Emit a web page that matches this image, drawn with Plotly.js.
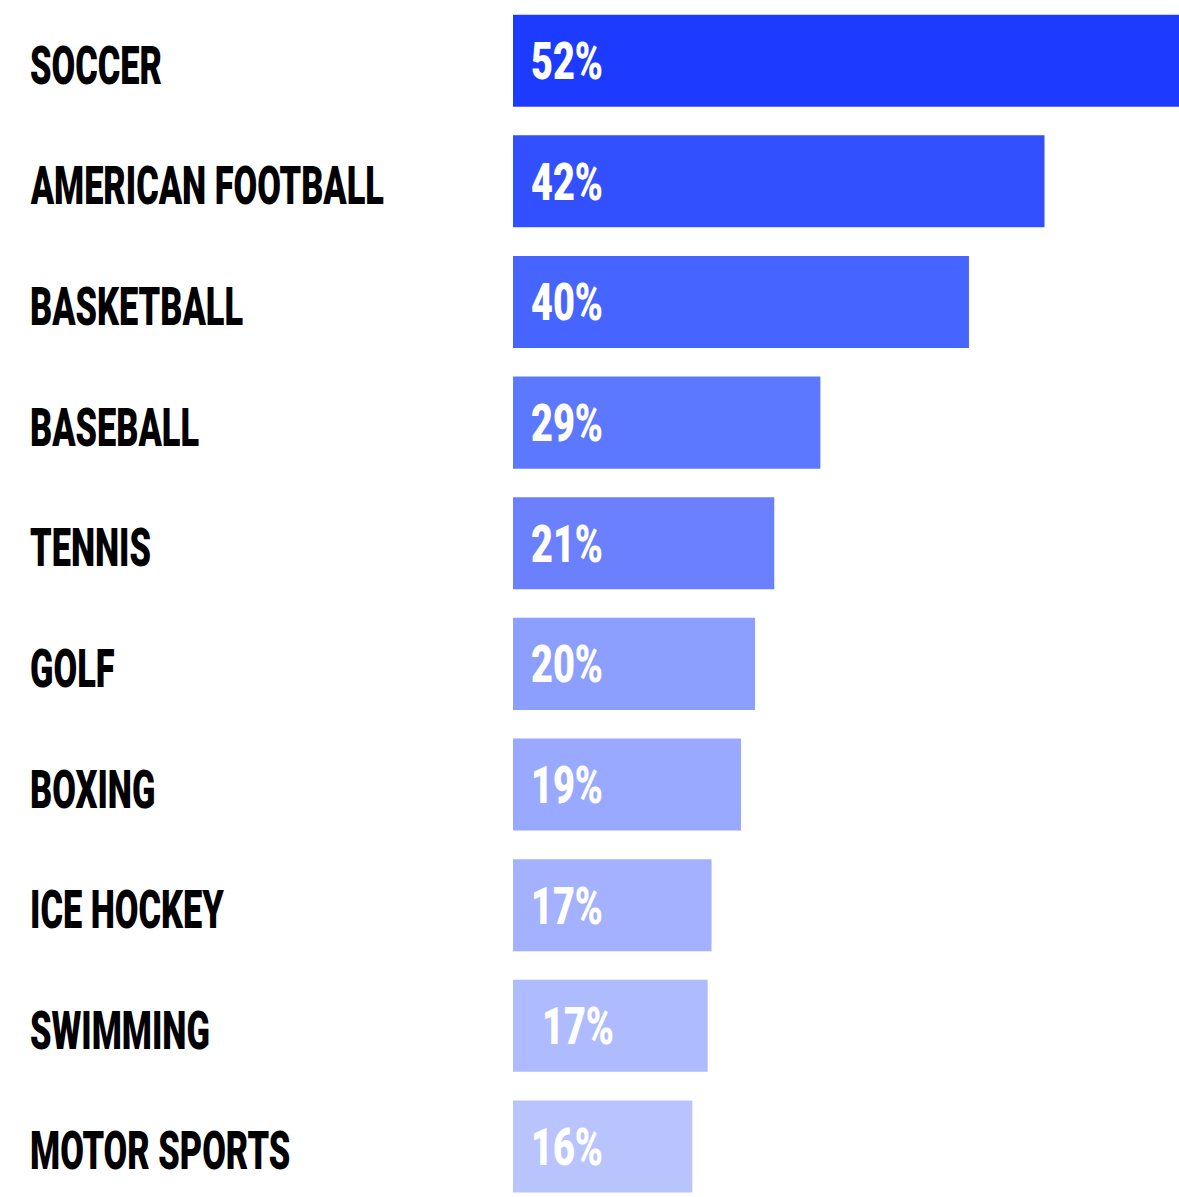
<!DOCTYPE html>
<html>
<head>
<meta charset="utf-8">
<script src="https://cdn.plot.ly/plotly-3.0.1.min.js"></script>
<style>html,body{margin:0;padding:0;background:#fff;}#chart{width:1179px;height:1197px;}</style>
</head>
<body>
<div id="chart"></div>
<script>
const categories = ["SOCCER","AMERICAN FOOTBALL","BASKETBALL","BASEBALL","TENNIS","GOLF","BOXING","ICE HOCKEY","SWIMMING","MOTOR SPORTS"];
const barValues = [52, 41.5, 35.6, 24.0, 20.4, 18.9, 17.8, 15.5, 15.2, 14.0];
const valueLabels = ["52%","42%","40%","29%","21%","20%","19%","17%","17%","16%"];
const barColors = ["#1c3bff","#3350ff","#4664ff","#5c78ff","#6a80ff","#8c9fff","#98a9ff","#a4b1ff","#aebcff","#b9c4ff"];

const FONT = "Roboto, Inter, 'DejaVu Sans', sans-serif";

const trace = {
  type: "bar",
  orientation: "h",
  y: categories,
  x: barValues,
  marker: {color: barColors, line: {width: 0}},
  width: 0.763,
  hoverinfo: "skip"
};

const annotations = [];
categories.forEach((c, i) => {
  annotations.push({
    xref: "paper", yref: "y", x: -0.7282, y: c,
    xanchor: "left", yanchor: "middle", yshift: -5,
    text: c, showarrow: false,
    font: {family: FONT, size: 53, weight: 900, color: "#000"}
  });
  annotations.push({
    xref: "x", yref: "y", x: 0, y: c,
    xanchor: "left", yanchor: "middle", yshift: -1,
    xshift: c === "SWIMMING" ? 27 : 16,
    text: valueLabels[i], showarrow: false,
    font: {family: FONT, size: 52, weight: 900, color: "#fff"}
  });
});

const layout = {
  width: 1179, height: 1197,
  margin: {l: 513, r: 0, t: 0, b: 0, pad: 0},
  paper_bgcolor: "#fff", plot_bgcolor: "#fff",
  showlegend: false,
  xaxis: {range: [0, 52], visible: false, fixedrange: true},
  yaxis: {type: "category", range: [9.419, -0.503], visible: false, fixedrange: true},
  annotations: annotations
};

Plotly.newPlot("chart", [trace], layout, {displayModeBar: false, staticPlot: true}).then(gd => {
  // condense the heavy labels horizontally, as in the original condensed typeface
  const texts = Array.from(gd.querySelectorAll("text.annotation-text"));
  let catRef = null, valRef = null;
  texts.forEach(t => {
    const s = t.textContent;
    if (s === "AMERICAN FOOTBALL") catRef = t;
    if (s === "52%") valRef = t;
  });
  const catScale = catRef ? 354 / catRef.getBBox().width : 1;
  const valScale = valRef ? 72 / valRef.getBBox().width : 1;
  texts.forEach(t => {
    const isVal = /%$/.test(t.textContent);
    const k = isVal ? valScale : catScale;
    t.style.transformBox = "fill-box";
    t.style.transformOrigin = "left center";
    t.style.transform = "scaleX(" + k + ")";
  });
});
</script>
</body>
</html>
